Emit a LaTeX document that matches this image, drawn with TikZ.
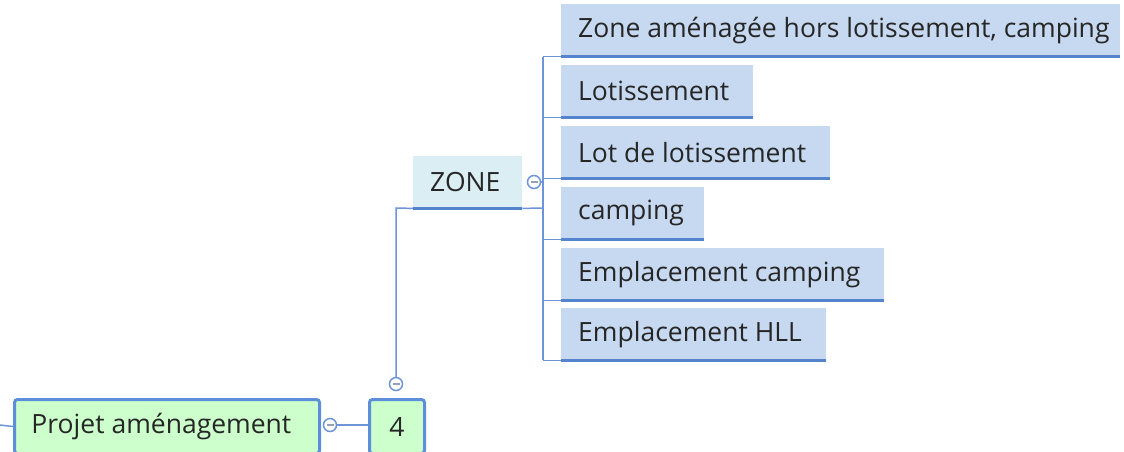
\documentclass[tikz,border=0pt]{standalone}
\usepackage{fontspec}
\setmainfont{Open Sans}
\definecolor{childfill}{RGB}{198,217,240}
\definecolor{uline}{RGB}{84,132,206}
\definecolor{conn}{RGB}{108,148,214}
\definecolor{zonefill}{RGB}{218,238,243}
\definecolor{greenfill}{RGB}{204,255,204}
\definecolor{gborder}{RGB}{92,142,218}
\definecolor{minusc}{RGB}{150,160,180}
\newcommand\lbox[3]{\hspace*{#2}\makebox[\dimexpr#1-#2\relax][l]{#3}}
\begin{document}
\begin{tikzpicture}[x=1pt,y=-1pt,
  every node/.style={font=\fontsize{26.5}{30}\selectfont, text=black!85},
  child/.style={fill=childfill, draw=none, minimum height=52pt, inner sep=0pt, anchor=north west},
  topic/.style={fill=greenfill, draw=gborder, line width=3pt, rounded corners=3pt, minimum height=54pt, inner sep=0pt, anchor=north west},
  uln/.style={draw=uline, line width=3pt},
  cn/.style={draw=conn, line width=1.5pt},
  coll/.style={circle, draw=conn, fill=white, line width=1.5pt, minimum size=13pt, inner sep=0pt},
  mns/.style={draw=minusc, line width=1.6pt}
]
\useasboundingbox (0,0) rectangle (1124,451);
\clip (0,0) rectangle (1124,451);

% children
\node[child] (c1) at (561,4) {\lbox{559pt}{17pt}{Zone aménagée hors lotissement, camping}};
\node[child] (c2) at (561,65) {\lbox{192pt}{17pt}{Lotissement}};
\node[child] (c3) at (561,126) {\lbox{269pt}{17pt}{Lot de lotissement}};
\node[child] (c4) at (561,187) {\lbox{143pt}{17pt}{camping}};
\node[child] (c5) at (561,248) {\lbox{323pt}{17pt}{Emplacement camping}};
\node[child] (c6) at (561,308) {\lbox{265pt}{17pt}{Emplacement HLL}};
\foreach \n in {c1,c2,c3,c4,c5,c6}{\draw[uln] (\n.south west) -- (\n.south east);}

% ZONE
\node[fill=zonefill, minimum height=52pt, inner sep=0pt, anchor=north west] (zone) at (413,156) {\lbox{109pt}{17pt}{ZONE}};
\coordinate (sp1) at (543,57);
\coordinate (sp6) at (543,360);
\draw[cn] (sp1) -- (sp6);
\foreach \n in {c1,c2,c3,c4,c5,c6}{\draw[cn] (\n.south west -| sp1) -- (\n.south west);}
\node[coll] (zc) at (534,182) {};
\draw[mns] ([xshift=-3.5pt]zc.center) -- ([xshift=3.5pt]zc.center);
\draw[cn] (zc.east) -- (zc.east -| sp1);

% topics
\node[topic] (proj) at (13,398) {\lbox{305pt}{17pt}{Projet aménagement}};
\node[topic, minimum width=55pt] (four) at (368,398) {4};
\node[coll] (pc) at (330,425) {};
\draw[mns] ([xshift=-3.5pt]pc.center) -- ([xshift=3.5pt]pc.center);
\node[coll] (fc) at (396,384) {};
\draw[mns] ([xshift=-3.5pt]fc.center) -- ([xshift=3.5pt]fc.center);
\coordinate (left) at (0,425);
\draw[cn] (left) -- (proj.west);
\draw[cn] (pc.east) -- (pc.east -| four.west);
\coordinate (bend) at (396,208);
\coordinate (zend) at (543,208);
\draw[cn] (fc.north) -- (bend) -- (zone.south west);
\draw[uln] (zone.south west) -- (zone.south east);
\draw[cn] (zone.south east) -- (zend);
\end{tikzpicture}
\end{document}
